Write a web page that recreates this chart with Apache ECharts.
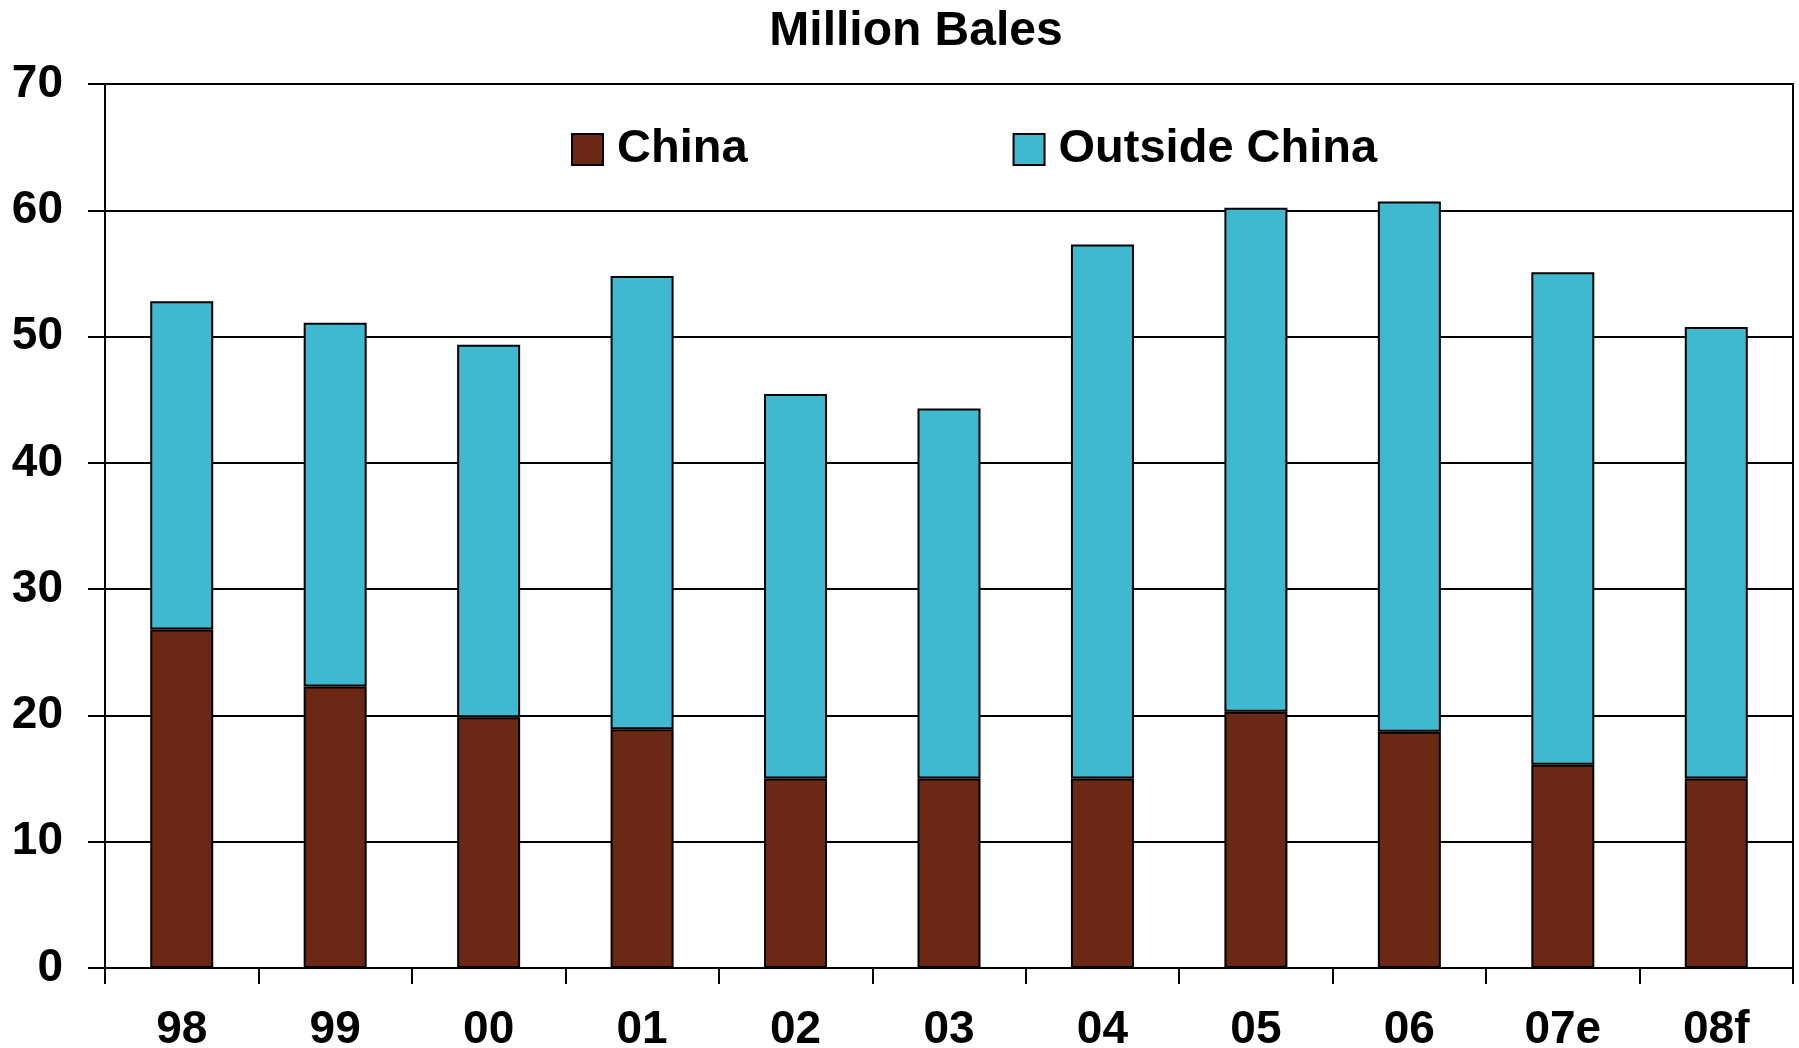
<!DOCTYPE html>
<html>
<head>
<meta charset="utf-8">
<script src="https://cdn.jsdelivr.net/npm/echarts@6/dist/echarts.min.js"></script>
<style>
html,body{margin:0;padding:0;background:#fff;}
#chart{width:1799px;height:1048px;}
</style>
</head>
<body>
<div id="chart"></div>
<script>
const categories = ['98','99','00','01','02','03','04','05','06','07e','08f'];
const china = [26.8, 22.3, 19.85, 18.9, 15.0, 15.0, 15.0, 20.3, 18.7, 16.1, 15.0];
const outsideChina = [26.0, 28.8, 29.5, 35.9, 30.45, 29.3, 42.3, 39.9, 42.0, 39.0, 35.75];
const yTicks = [0, 10, 20, 30, 40, 50, 60, 70];

const FONT = '"Liberation Sans", Arial, sans-serif';
const chart = echarts.init(document.getElementById('chart'), null, {renderer: 'canvas'});
chart.setOption({
  animation: false,
  backgroundColor: '#fff',
  title: {
    text: 'Million Bales',
    left: 911, top: 3, textAlign: 'center',
    textStyle: {fontFamily: FONT, fontWeight: 'bold', fontSize: 48, color: '#000'}
  },
  legend: {
    left: 571, top: 126, padding: 0,
    itemWidth: 31, itemHeight: 31, itemGap: 265,
    icon: 'rect',
    itemStyle: {borderColor: '#000', borderWidth: 2},
    textStyle: {fontFamily: FONT, fontWeight: 'bold', fontSize: 47, color: '#000', lineHeight: 31, padding: [0, 0, 0, 9]},
    data: ['China', 'Outside China']
  },
  grid: {
    left: 105, right: 6, top: 84, bottom: 80,
    outerBoundsMode: 'none', containLabel: false,
    show: true, borderColor: '#000', borderWidth: 2, backgroundColor: 'transparent'
  },
  xAxis: {
    type: 'category', data: categories,
    axisLine: {lineStyle: {color: '#000', width: 2}},
    axisTick: {show: true, length: 16, lineStyle: {color: '#000', width: 2}},
    axisLabel: {fontFamily: FONT, fontWeight: 'bold', fontSize: 46, color: '#000', margin: 39}
  },
  yAxis: {
    type: 'value', min: 0, max: 70, interval: 10,
    axisLine: {show: true, lineStyle: {color: '#000', width: 2}},
    axisTick: {show: true, length: 17, lineStyle: {color: '#000', width: 2}},
    splitLine: {show: true, lineStyle: {color: '#000', width: 2}},
    axisLabel: {
      fontFamily: FONT, fontWeight: 'bold', fontSize: 46, color: '#000', margin: 42,
      formatter: v => yTicks.includes(v) ? String(v) : ''
    }
  },
  series: [
    {
      name: 'China', type: 'bar', stack: 'total', data: china, barWidth: 63,
      itemStyle: {color: '#6B2814', borderColor: '#000', borderWidth: 2}
    },
    {
      name: 'Outside China', type: 'bar', stack: 'total', data: outsideChina, barWidth: 63,
      itemStyle: {color: '#40B8CF', borderColor: '#000', borderWidth: 2}
    }
  ]
});
</script>
</body>
</html>
